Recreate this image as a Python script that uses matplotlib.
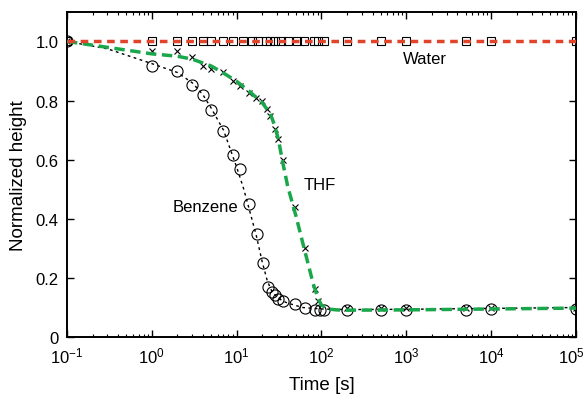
import matplotlib
matplotlib.use("Agg")
import matplotlib.pyplot as plt
import matplotlib.transforms as mtransforms
import numpy as np

plt.rcParams['font.family'] = ['Liberation Sans', 'DejaVu Sans']
plt.rcParams['mathtext.fontset'] = 'custom'
plt.rcParams['mathtext.rm'] = 'Liberation Sans'
plt.rcParams['mathtext.default'] = 'regular'

# Measured data
water_t = [0.1, 1, 2, 3, 4, 5, 7, 9, 12, 15, 18, 22, 25, 28, 33, 40, 52, 62, 82, 92, 107, 200, 500, 1000, 5000, 10000, 100000]
water_h = [1.0] * len(water_t)

thf_t = [0.1, 1, 2, 3, 4, 5, 7, 9, 11, 14, 17, 20, 23, 25, 28, 31, 35, 49, 64, 84, 92, 200, 500, 1000, 5000, 10000, 100000]
thf_h = [1.0, 0.967, 0.967, 0.948, 0.917, 0.908, 0.896, 0.866, 0.849, 0.824, 0.81, 0.798, 0.77, 0.748,
         0.703, 0.671, 0.598, 0.44, 0.30, 0.162, 0.123, 0.10, 0.097, 0.097, 0.10, 0.10, 0.097]

benz_t = [0.1, 1, 2, 3, 4, 5, 7, 9, 11, 14, 17.6, 20.5, 23.5, 26, 28.5, 31, 35, 49, 64, 84, 95, 108, 200, 500, 1000, 5000, 10000, 100000]
benz_h = [1.0, 0.916, 0.899, 0.851, 0.818, 0.767, 0.696, 0.615, 0.570, 0.449, 0.348, 0.25, 0.171, 0.152,
          0.141, 0.130, 0.121, 0.111, 0.100, 0.091, 0.091, 0.091, 0.090, 0.090, 0.090, 0.092, 0.095, 0.095]

# Fit curves
thf_fit_t = [0.1, 0.3, 1, 2, 3, 5, 7, 10, 14, 20, 25, 28, 31, 35, 40, 50, 60, 70, 80, 90, 100, 120, 150, 200, 1000, 10000, 100000]
thf_fit_h = [1.0, 0.98, 0.958, 0.95, 0.94, 0.917, 0.893, 0.865, 0.832, 0.793, 0.755, 0.716, 0.67, 0.59, 0.51, 0.41, 0.32, 0.245, 0.18, 0.135, 0.108, 0.095, 0.092, 0.091, 0.092, 0.095, 0.098]

benz_fit_t = [0.1, 0.3, 1, 2, 3, 4, 5, 7, 10, 12, 14, 17, 20, 23, 26, 30, 35, 40, 60, 100, 200, 1000, 10000, 100000]
benz_fit_h = [1.0, 0.975, 0.925, 0.895, 0.86, 0.82, 0.775, 0.70, 0.575, 0.505, 0.435, 0.345, 0.255, 0.19, 0.155, 0.135, 0.122, 0.115, 0.10, 0.095, 0.093, 0.094, 0.097, 0.10]

water_fit_t = [0.1, 100000]
water_fit_h = [1.0, 1.0]

fig = plt.figure(figsize=(5.85, 4.02), dpi=100)
ax = fig.add_axes([0.1145, 0.159, 0.870, 0.809])

ax.plot(benz_fit_t, benz_fit_h, color='black', lw=1.0, ls=(0, (2, 2.5)), zorder=2)
ax.plot(benz_t, benz_h, ls='none', marker='o', ms=8, mfc='none', mec='black', mew=0.8, zorder=3)

ax.plot(thf_t, thf_h, ls='none', marker='x', ms=5, mec='black', mew=0.8, zorder=3)
ax.plot(thf_fit_t, thf_fit_h, color='#1aa64a', lw=2.5, ls=(0, (3, 1.6)), zorder=4)

ax.plot(water_t, water_h, ls='none', marker='s', ms=6, mfc='none', mec='black', mew=0.8, zorder=3)
ax.plot(water_fit_t, water_fit_h, color='#e0452b', lw=2.5, ls=(0, (2.2, 1.6)), zorder=4)

ax.set_xscale('log')
ax.set_xlim(0.1, 1e5)
ax.set_ylim(0, 1.1)
ax.set_yticks([0, 0.2, 0.4, 0.6, 0.8, 1.0])
ax.set_yticklabels(['0', '0.2', '0.4', '0.6', '0.8', '1.0'])
ax.set_xticks([1e-1, 1, 10, 100, 1e3, 1e4, 1e5])
ax.set_xticklabels(['$10^{-1}$', '$10^{0}$', '$10^{1}$', '$10^{2}$', '$10^{3}$', '$10^{4}$', '$10^{5}$'])

ax.tick_params(which='both', direction='in', top=True, right=True, labelsize=12, colors='black')
ax.tick_params(which='major', length=5, width=1, pad=6)
ax.tick_params(which='minor', length=2.5, width=0.8)
for s in ax.spines.values():
    s.set_linewidth(1.4)

# nudge the last x tick label so it stays inside the figure
last = ax.get_xticklabels()[-1]
last.set_transform(last.get_transform() + mtransforms.ScaledTranslation(-5 / 100, 0, fig.dpi_scale_trans))

ax.set_xlabel('Time [s]', fontsize=13.5, labelpad=8)
ax.set_ylabel('Normalized height', fontsize=13.5, labelpad=6)

ax.annotate('Water', xy=(1660, 0.943), ha='center', va='center', fontsize=12)
ax.annotate('THF', xy=(96, 0.517), ha='center', va='center', fontsize=12)
ax.annotate('Benzene', xy=(4.24, 0.443), ha='center', va='center', fontsize=12)

fig.savefig('out.png', dpi=100)
